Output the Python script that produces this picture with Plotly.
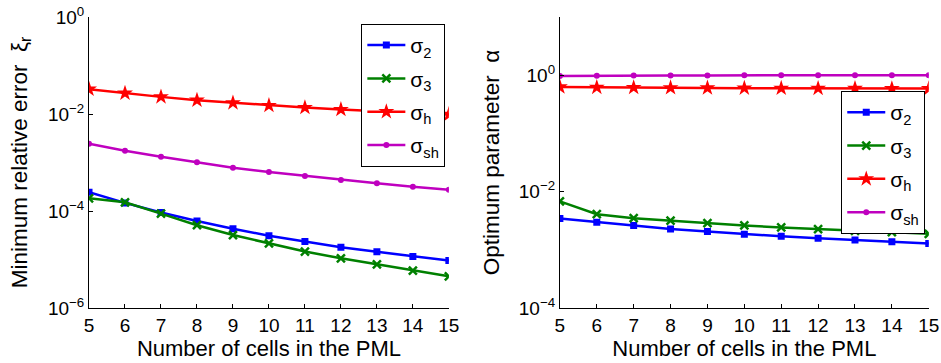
import plotly.graph_objects as go

cells = [5, 6, 7, 8, 9, 10, 11, 12, 13, 14, 15]

# Left panel: minimum relative error
err_s2 = [2.43e-4, 1.47e-4, 9.3e-5, 6.2e-5, 4.3e-5, 3.1e-5, 2.35e-5, 1.8e-5, 1.44e-5, 1.15e-5, 9.5e-6]
err_s3 = [1.83e-4, 1.51e-4, 8.85e-5, 5.1e-5, 3.2e-5, 2.14e-5, 1.46e-5, 1.06e-5, 7.9e-6, 5.9e-6, 4.5e-6]
err_sh_ = [0.0325, 0.0269, 0.0226, 0.0193, 0.017, 0.015, 0.0136, 0.0124, 0.0115, 0.0106, 0.0098]
err_ssh = [2.44e-3, 1.75e-3, 1.32e-3, 1.01e-3, 7.8e-4, 6.4e-4, 5.3e-4, 4.36e-4, 3.72e-4, 3.18e-4, 2.76e-4]

# Right panel: optimum parameter alpha
alp_s2 = [0.00346, 0.00299, 0.00262, 0.00229, 0.00206, 0.00185, 0.00171, 0.00158, 0.00148, 0.00138, 0.00129]
alp_s3 = [0.0068, 0.0041, 0.0035, 0.00316, 0.00288, 0.00263, 0.00242, 0.00226, 0.00212, 0.00201, 0.00188]
alp_sh_ = [0.63, 0.62, 0.615, 0.61, 0.605, 0.60, 0.598, 0.595, 0.593, 0.591, 0.59]
alp_ssh = [0.97, 0.985, 0.99, 0.993, 0.995, 0.997, 0.998, 0.999, 1.0, 1.0, 1.0]

names = ["σ<sub>2</sub>", "σ<sub>3</sub>", "σ<sub>h</sub>", "σ<sub>sh</sub>"]
colors = ["#0000FF", "#008000", "#FF0000", "#BF00BF"]
symbols = ["square", "x-thin-open", "star", "circle"]
msizes = [7, 8, 12, 6]

FONT = "Liberation Sans, Arial, sans-serif"

fig = go.Figure()

left = [err_s2, err_s3, err_sh_, err_ssh]
right = [alp_s2, alp_s3, alp_sh_, alp_ssh]

def add(series, xa, ya, leg):
    for i in range(4):
        mk = dict(symbol=symbols[i], size=msizes[i], color=colors[i])
        if symbols[i] == "x-thin-open":
            mk["line"] = dict(color=colors[i], width=2.5)
        fig.add_trace(go.Scatter(x=cells, y=series[i], name=names[i], mode="lines+markers",
                                 line=dict(color=colors[i], width=2.5), marker=mk,
                                 xaxis=xa, yaxis=ya, legend=leg,
                                 legendgroup=leg + str(i)))

add(left, "x", "y", "legend")
add(right, "x2", "y2", "legend2")

xt = dict(range=[5, 15], tickvals=cells, ticktext=[str(c) for c in cells],
          ticks="inside", ticklen=4, tickcolor="black", showline=True, linecolor="black",
          linewidth=1, showgrid=False, zeroline=False, mirror=False,
          ticklabeloverflow="allow",
          tickfont=dict(family=FONT, size=19, color="black"),
          title=dict(text="Number of cells in the PML", standoff=0,
                     font=dict(family=FONT, size=22, color="black")))

ylog_common = dict(type="log", ticks="inside", ticklen=4, tickcolor="black", showline=True,
                   linecolor="black", linewidth=1, showgrid=False, zeroline=False,
                   tickfont=dict(family=FONT, size=19, color="black"))

legend_common = dict(xanchor="left", yanchor="top", bordercolor="black", borderwidth=1,
                     bgcolor="white", font=dict(family=FONT, size=21, color="black"),
                     itemwidth=38, tracegroupgap=3)

fig.update_layout(
    width=941, height=363,
    margin=dict(l=0, r=0, t=0, b=0, autoexpand=False),
    paper_bgcolor="white", plot_bgcolor="white",
    xaxis=dict(domain=[0.0946, 0.477], anchor="y", **xt),
    xaxis2=dict(domain=[0.595, 0.987], anchor="y2", **xt),
    yaxis=dict(domain=[0.1515, 0.953], anchor="x", range=[-6, 0],
               tickvals=[1e-6, 1e-4, 1e-2, 1],
               ticktext=["10<sup>−6</sup>", "10<sup>−4</sup>", "10<sup>−2</sup>", "10<sup>0</sup>"],
               title=dict(text="Minimum relative error  ξ<sub>r</sub>", standoff=14,
                          font=dict(family=FONT, size=22.5, color="black")),
               **ylog_common),
    yaxis2=dict(domain=[0.1515, 0.953], anchor="x2", range=[-4, 1],
                tickvals=[1e-4, 1e-2, 1],
                ticktext=["10<sup>−4</sup>", "10<sup>−2</sup>", "10<sup>0</sup>"],
                title=dict(text="Optimum parameter  α", standoff=12,
                           font=dict(family=FONT, size=22.5, color="black")),
                **ylog_common),
    legend=dict(x=0.384, y=0.934, **legend_common),
    legend2=dict(x=0.894, y=0.749, **legend_common),
    showlegend=True,
)

fig.write_html("out.html", config={"displayModeBar": False},
               post_script="document.body.style.margin='0';document.body.style.padding='0';")
